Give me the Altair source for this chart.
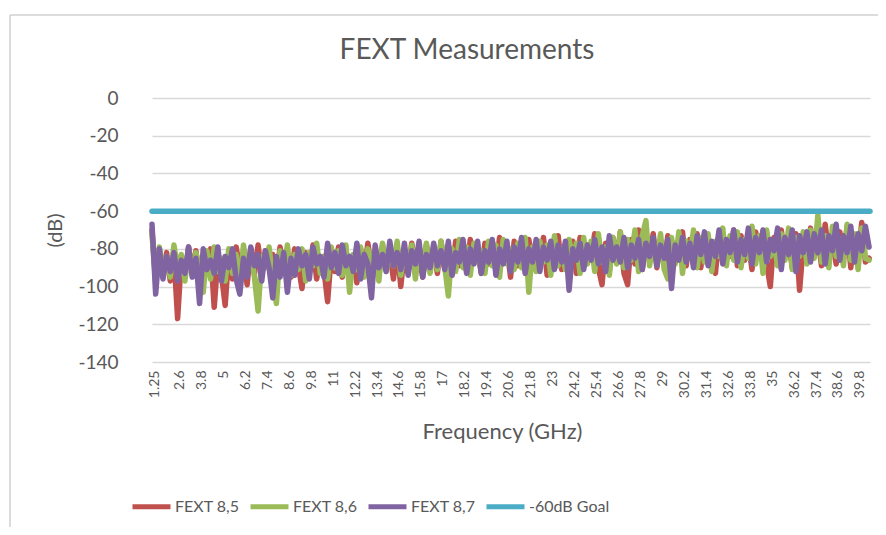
import altair as alt
import pandas as pd

# ---- data ----
series_names = ["FEXT 8,5", "FEXT 8,6", "FEXT 8,7", "-60dB Goal"]
series_colors = ["#C0504D", "#9BBB59", "#8064A2", "#4BACC6"]

freq_start = 1.1   # GHz, first sweep point
freq_step = 0.2    # GHz between sweep points

fext85 = [
    -70, -96, -80, -93, -82, -97, -84, -117, -86, -95,
    -79, -93, -81, -98, -83, -92, -80, -111, -85, -94,
    -110, -82, -96, -79, -91, -84, -99, -80, -93, -78,
    -94, -81, -90, -83, -97, -79, -92, -85, -95, -80,
    -89, -101, -82, -93, -78, -96, -84, -91, -108, -83,
    -92, -79, -95, -81, -90, -84, -98, -80, -93, -77,
    -91, -83, -94, -78, -89, -82, -96, -79, -100, -81,
    -92, -77, -90, -84, -95, -78, -88, -80, -93, -76,
    -90, -82, -94, -76, -89, -79, -92, -75, -87, -81,
    -93, -77, -88, -80, -91, -74, -86, -79, -95, -76,
    -89, -78, -92, -75, -87, -81, -90, -74, -94, -77,
    -88, -73, -91, -79, -86, -76, -93, -74, -89, -78,
    -85, -72, -90, -99, -77, -92, -74, -87, -71, -93,
    -99, -75, -88, -70, -91, -78, -85, -72, -90, -76,
    -87, -73, -92, -77, -84, -71, -89, -75, -86, -72,
    -90, -74, -85, -78, -93, -72, -87, -76, -84, -70,
    -89, -73, -86, -77, -91, -71, -84, -75, -88, -100,
    -74, -87, -70, -85, -76, -90, -72, -102, -78, -86,
    -69, -84, -74, -89, -67, -83, -76, -88, -71, -85,
    -68, -90, -73, -84, -66, -87, -85,
]
fext86 = [
    -72, -98, -79, -92, -84, -95, -78, -91, -83, -97,
    -80, -94, -82, -90, -103, -81, -96, -79, -92, -85,
    -97, -80, -93, -83, -99, -78, -91, -82, -95, -113,
    -84, -90, -79, -96, -109, -81, -92, -78, -94, -83,
    -91, -80, -97, -82, -89, -77, -93, -84, -96, -79,
    -90, -81, -94, -78, -103, -83, -91, -79, -95, -80,
    -88, -82, -97, -77, -92, -80, -89, -76, -94, -81,
    -90, -78, -96, -79, -88, -77, -93, -80, -91, -76,
    -89, -105, -80, -92, -75, -90, -79, -94, -77, -87,
    -81, -93, -76, -89, -78, -95, -75, -88, -80, -91,
    -77, -90, -74, -103, -79, -92, -76, -87, -78, -94,
    -73, -89, -80, -91, -75, -86, -77, -93, -74, -88,
    -76, -92, -72, -87, -79, -94, -74, -88, -71, -90,
    -75, -86, -70, -92, -73, -65, -89, -76, -87, -72,
    -91, -96, -74, -88, -71, -93, -76, -85, -70, -90,
    -74, -87, -72, -92, -76, -84, -69, -89, -73, -86,
    -71, -90, -75, -85, -68, -88, -73, -93, -70, -84,
    -76, -89, -72, -86, -69, -91, -74, -84, -71, -88,
    -70, -85, -62, -87, -73, -90, -68, -84, -75, -89,
    -67, -86, -72, -91, -69, -85, -86,
]
fext87 = [
    -67, -104, -80, -96, -84, -92, -82, -97, -86, -93,
    -79, -95, -85, -109, -80, -91, -86, -93, -79, -97,
    -84, -90, -80, -96, -104, -85, -95, -79, -89, -83,
    -97, -81, -90, -106, -84, -95, -82, -103, -85, -94,
    -80, -89, -83, -96, -79, -88, -84, -95, -77, -90,
    -82, -93, -78, -89, -84, -92, -77, -96, -83, -88,
    -106, -78, -90, -83, -92, -76, -89, -82, -91, -77,
    -94, -81, -88, -76, -95, -83, -90, -77, -89, -81,
    -91, -76, -94, -82, -87, -75, -93, -80, -88, -76,
    -93, -81, -87, -75, -94, -80, -88, -76, -92, -79,
    -87, -74, -93, -80, -87, -75, -92, -79, -86, -76,
    -91, -78, -87, -76, -102, -80, -86, -77, -91, -78,
    -86, -75, -88, -79, -92, -73, -86, -79, -87, -74,
    -90, -78, -85, -75, -91, -77, -84, -74, -89, -78,
    -85, -75, -101, -78, -86, -74, -87, -77, -90, -73,
    -83, -71, -89, -76, -84, -70, -88, -75, -82, -70,
    -87, -75, -83, -69, -88, -74, -82, -70, -87, -75,
    -81, -69, -91, -74, -83, -70, -92, -73, -82, -71,
    -87, -72, -82, -70, -88, -73, -81, -67, -86, -73,
    -82, -68, -87, -72, -81, -68, -79,
]
goal_freq = [1.1, 40.35]
goal_db = [-60, -60]

y_ticks = [0, -20, -40, -60, -80, -100, -120, -140]
x_tick_labels = [1.25, 2.6, 3.8, 5, 6.2, 7.4, 8.6, 9.8, 11, 12.2, 13.4, 14.6,
                 15.8, 17, 18.2, 19.4, 20.6, 21.8, 23, 24.2, 25.4, 26.6, 27.8,
                 29, 30.2, 31.4, 32.6, 33.8, 35, 36.2, 37.4, 38.6, 39.8]
chart_title = "FEXT Measurements"

# ---- build table ----
rows = []
for name, vals in zip(series_names[:3], [fext85, fext86, fext87]):
    for i, v in enumerate(vals):
        rows.append({"series": name, "freq": round(freq_start + freq_step * i, 3), "db": v})
for f, v in zip(goal_freq, goal_db):
    rows.append({"series": series_names[3], "freq": f, "db": v})
df = pd.DataFrame(rows)

TEXT = "#595959"
FONT = "Lato"

x_enc = alt.X("freq:Q",
              scale=alt.Scale(domain=[1.1, 40.35], nice=False, zero=False),
              axis=alt.Axis(values=x_tick_labels, format=".2~f", labelAngle=270,
                            labelFontSize=14, labelPadding=8, labelOverlap=False,
                            labelBound=False, labelFlush=False,
                            ticks=False, tickSize=0, domain=False, grid=False,
                            title="Frequency (GHz)", titleFontSize=22,
                            titlePadding=24, titleFontWeight="normal", titleX=350))
y_enc = alt.Y("db:Q",
              scale=alt.Scale(domain=[-140, 0], nice=False),
              axis=alt.Axis(values=y_ticks, labelExpr="datum.value + ''",
                            labelFontSize=19, labelPadding=34,
                            ticks=False, tickSize=0, domain=False, grid=True,
                            gridColor="#D9D9D9", gridWidth=1.5,
                            title="(dB)", titleFontSize=20, titlePadding=12,
                            titleFontWeight="normal"))
color_enc = alt.Color("series:N",
                      scale=alt.Scale(domain=series_names, range=series_colors),
                      legend=alt.Legend(title=None, orient="none", direction="horizontal",
                                        legendX=-22, legendY=387,
                                        symbolType="stroke", symbolStrokeWidth=5,
                                        symbolSize=1444, labelFontSize=16,
                                        labelOffset=2, columnPadding=0,
                                        labelFont=FONT, labelColor=TEXT))

layers = []
for name in series_names:
    layers.append(
        alt.Chart(df)
        .transform_filter(alt.datum.series == name)
        .mark_line(strokeWidth=5.5, strokeJoin="round", strokeCap="round")
        .encode(x=x_enc, y=y_enc, color=color_enc)
    )

deco = alt.Chart(alt.Data(values=[{}]))
border_left = deco.mark_rule(color="#D0D0D0", strokeWidth=1.5).encode(
    x=alt.value(-142), y=alt.value(-83), y2=alt.value(440))
border_top = deco.mark_rule(color="#D0D0D0", strokeWidth=1.5).encode(
    x=alt.value(-142), x2=alt.value(740), y=alt.value(-83))
title_text = deco.mark_text(font=FONT, fontSize=28, color=TEXT, align="center",
                            baseline="alphabetic").encode(
    x=alt.value(315), y=alt.value(-39), text=alt.value(chart_title))

chart = (
    alt.layer(border_left, border_top, title_text, *layers)
    .properties(
        width=718, height=264,
        autosize=alt.AutoSizeParams(type="none"),
        padding={"left": 144, "top": 90, "right": 8, "bottom": 165},
    )
    .configure_view(stroke=None)
    .configure_axis(labelFont=FONT, titleFont=FONT, labelColor=TEXT, titleColor=TEXT)
)

chart.save("out.html", embed_options={"renderer": "svg", "actions": False})
